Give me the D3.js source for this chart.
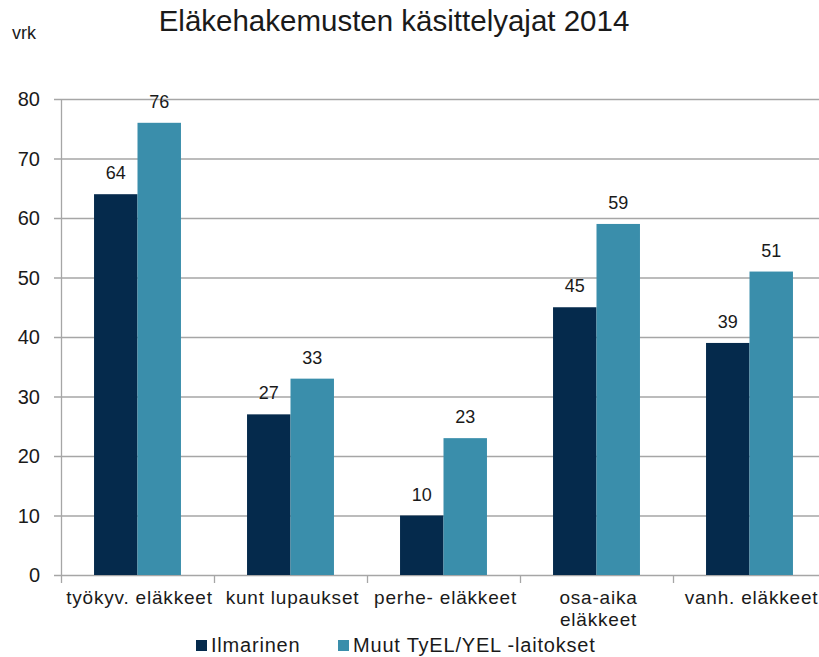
<!DOCTYPE html>
<html lang="fi">
<head>
    <meta charset="utf-8">
    <title>Eläkehakemusten käsittelyajat 2014</title>
    <script src="https://d3js.org/d3.v7.min.js"></script>
    <style>
        body { margin: 0; background: #fff; }
        svg text { font-family: "Liberation Sans", Arial, sans-serif; fill: #1a1a1a; }
    </style>
</head>
<body>
    <div id="chart"></div>
    <script>
        // Data
        const categories = ["työkyv. eläkkeet", "kunt lupaukset", "perhe- eläkkeet", "osa-aika eläkkeet", "vanh. eläkkeet"];
        const categoryLines = [["työkyv. eläkkeet"], ["kunt lupaukset"], ["perhe- eläkkeet"], ["osa-aika", "eläkkeet"], ["vanh. eläkkeet"]];
        const seriesNames = ["Ilmarinen", "Muut TyEL/YEL -laitokset"];
        const ilmarinen = [64, 27, 10, 45, 39];
        const muut = [76, 33, 23, 59, 51];
        const yTicks = [0, 10, 20, 30, 40, 50, 60, 70, 80];
        const colors = ["#052a4c", "#3a8eab"];

        const width = 819, height = 657;
        const margin = { left: 61, top: 99, bottom: 82 };
        const bandW = 153;

        const svg = d3.select("#chart").append("svg")
            .attr("width", width)
            .attr("height", height);

        const x = d3.scaleBand()
            .domain(categories)
            .range([margin.left, margin.left + bandW * categories.length]);

        const x1 = d3.scaleBand()
            .domain(seriesNames)
            .range([0, x.bandwidth()])
            .paddingInner(0)
            .paddingOuter(0.76);

        const y = d3.scaleLinear()
            .domain([0, 80])
            .range([height - margin.bottom, margin.top]);

        // Gridlines
        svg.append("g")
            .selectAll("line")
            .data(yTicks)
            .join("line")
            .attr("x1", margin.left - 7)
            .attr("x2", width)
            .attr("y1", d => y(d) + 0.5)
            .attr("y2", d => y(d) + 0.5)
            .attr("stroke", "#a6a6a6")
            .attr("stroke-width", 1.3);

        // Y axis labels
        svg.append("g")
            .selectAll("text")
            .data(yTicks)
            .join("text")
            .attr("x", 40)
            .attr("y", d => y(d))
            .attr("dy", "0.35em")
            .attr("text-anchor", "end")
            .style("font-size", "20px")
            .text(d => d);

        // Y axis line
        svg.append("line")
            .attr("x1", margin.left + 0.5).attr("x2", margin.left + 0.5)
            .attr("y1", y(80)).attr("y2", y(0))
            .attr("stroke", "#a6a6a6").attr("stroke-width", 1.3);

        // Category ticks
        const catTicks = categories.map(c => x(c)).concat([x(categories[categories.length - 1]) + x.bandwidth()]);
        svg.append("g")
            .selectAll("line")
            .data(catTicks)
            .join("line")
            .attr("x1", d => d + 0.5).attr("x2", d => d + 0.5)
            .attr("y1", y(0)).attr("y2", y(0) + 8)
            .attr("stroke", "#a6a6a6").attr("stroke-width", 1.3);

        // Bars
        const series = [ilmarinen, muut];
        series.forEach((vals, si) => {
            svg.append("g")
                .selectAll("rect")
                .data(vals)
                .join("rect")
                .attr("x", (d, i) => x(categories[i]) + x1(seriesNames[si]))
                .attr("width", x1.bandwidth())
                .attr("y", d => y(d))
                .attr("height", d => y(0) - y(d))
                .attr("fill", colors[si]);

            svg.append("g")
                .selectAll("text")
                .data(vals)
                .join("text")
                .attr("x", (d, i) => x(categories[i]) + x1(seriesNames[si]) + x1.bandwidth() / 2)
                .attr("y", d => y(d) - 15)
                .attr("text-anchor", "middle")
                .style("font-size", "18px")
                .text(d => d);
        });

        // Category labels
        const catG = svg.append("g");
        categories.forEach((c, i) => {
            const cx = x(c) + x.bandwidth() / 2 + 2;
            const t = catG.append("text")
                .attr("x", cx)
                .attr("y", 604)
                .attr("text-anchor", "middle")
                .style("font-size", "19px")
                .style("letter-spacing", "0.8px");
            categoryLines[i].forEach((ln, li) => {
                t.append("tspan")
                    .attr("x", cx)
                    .attr("dy", li === 0 ? 0 : 22)
                    .text(ln);
            });
        });

        // Title and unit
        svg.append("text")
            .attr("x", 394)
            .attr("y", 31)
            .attr("text-anchor", "middle")
            .style("font-size", "29.5px")
            .text("Eläkehakemusten käsittelyajat 2014");

        svg.append("text")
            .attr("x", 12)
            .attr("y", 39)
            .style("font-size", "18px")
            .text("vrk");

        // Legend
        const legendX = [196, 338];
        seriesNames.forEach((name, i) => {
            svg.append("rect")
                .attr("x", legendX[i])
                .attr("y", 640)
                .attr("width", 11)
                .attr("height", 11)
                .attr("fill", colors[i]);
            svg.append("text")
                .attr("x", legendX[i] + 15)
                .attr("y", 652)
                .style("font-size", "20px")
                .style("letter-spacing", "0.8px")
                .text(name);
        });
    </script>
</body>
</html>
